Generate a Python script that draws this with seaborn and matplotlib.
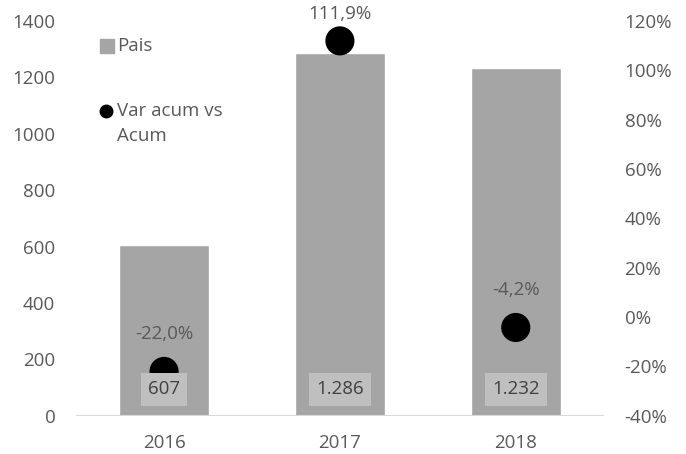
import pandas as pd
import numpy as np
import seaborn as sns
import matplotlib.pyplot as plt
from matplotlib.ticker import FuncFormatter

years = ['2016', '2017', '2018']
pais = [607, 1286, 1232]
var_acum = [-22.0, 111.9, -4.2]
pais_labels = ['607', '1.286', '1.232']
var_labels = ['-22,0%', '111,9%', '-4,2%']

df = pd.DataFrame({'year': years, 'pais': pais, 'var': var_acum})

sns.set_style('white')
plt.rcParams['font.family'] = ['Open Sans', 'DejaVu Sans']
txt = '#595959'
fs = 13.5

fig = plt.figure(figsize=(6.86, 4.54), dpi=100)
ax = fig.add_axes([0.111, 0.084, 0.769, 0.870])

sns.barplot(data=df, x='year', y='pais', color='#A5A5A5', saturation=1,
            width=0.51, ax=ax)
ax.set_ylim(0, 1400)
ax.set_yticks(range(0, 1401, 200))
ax.set_xlabel('')
ax.set_ylabel('')
for s in ax.spines.values():
    s.set_visible(False)
ax.axhline(0, color='#D9D9D9', lw=1.5, zorder=1)
ax.tick_params(axis='both', length=0, colors=txt, labelsize=fs)
ax.tick_params(axis='x', pad=13)
ax.tick_params(axis='y', pad=15)

ax2 = ax.twinx()
sns.scatterplot(data=df, x='year', y='var', color='black', s=440,
                edgecolor='none', ax=ax2, zorder=4, legend=False)
ax2.set_ylim(-40, 120)
ax2.set_yticks(range(-40, 121, 20))
ax2.yaxis.set_major_formatter(FuncFormatter(lambda v, p: f'{int(v)}%'))
ax2.set_ylabel('')
for s in ax2.spines.values():
    s.set_visible(False)
ax2.tick_params(axis='y', length=0, colors=txt, labelsize=fs, pad=15)
ax.set_xlim(-0.5, 2.5)

# percentage labels above the dots (the top one sits closer, like Excel)
label_offsets = [27, 19, 27]
for i, lab in enumerate(var_labels):
    ax2.annotate(lab, xy=(i, var_acum[i]), xytext=(0, label_offsets[i]),
                 textcoords='offset points', ha='center', va='center',
                 fontsize=fs, color=txt)

ax.set_zorder(ax2.get_zorder() - 1)
ax.patch.set_visible(False)

# value boxes at the bottom of the bars, drawn above the dots
for i, lab in enumerate(pais_labels):
    ax2.annotate(lab, xy=(i, -40), xytext=(0, 19), textcoords='offset points',
                 ha='center', va='center', fontsize=fs, color='#404040',
                 bbox=dict(boxstyle='square,pad=0.38', fc='#BFBFBF', ec='none'),
                 zorder=6)

# legend, laid out like the Excel one
tr = ax2.transAxes
ax2.plot(0.058, 0.937, marker='s', ms=9.5, color='#A5A5A5', transform=tr,
         clip_on=False, zorder=7)
ax2.text(0.078, 0.937, 'Pais', transform=tr, ha='left', va='center',
         fontsize=fs, color=txt)
ax2.plot(0.057, 0.772, marker='o', ms=9, color='black', transform=tr,
         clip_on=False, zorder=7)
ax2.text(0.078, 0.772, 'Var acum vs', transform=tr, ha='left', va='center',
         fontsize=fs, color=txt)
ax2.text(0.078, 0.708, 'Acum', transform=tr, ha='left', va='center',
         fontsize=fs, color=txt)

fig.savefig('out.png', dpi=100)
